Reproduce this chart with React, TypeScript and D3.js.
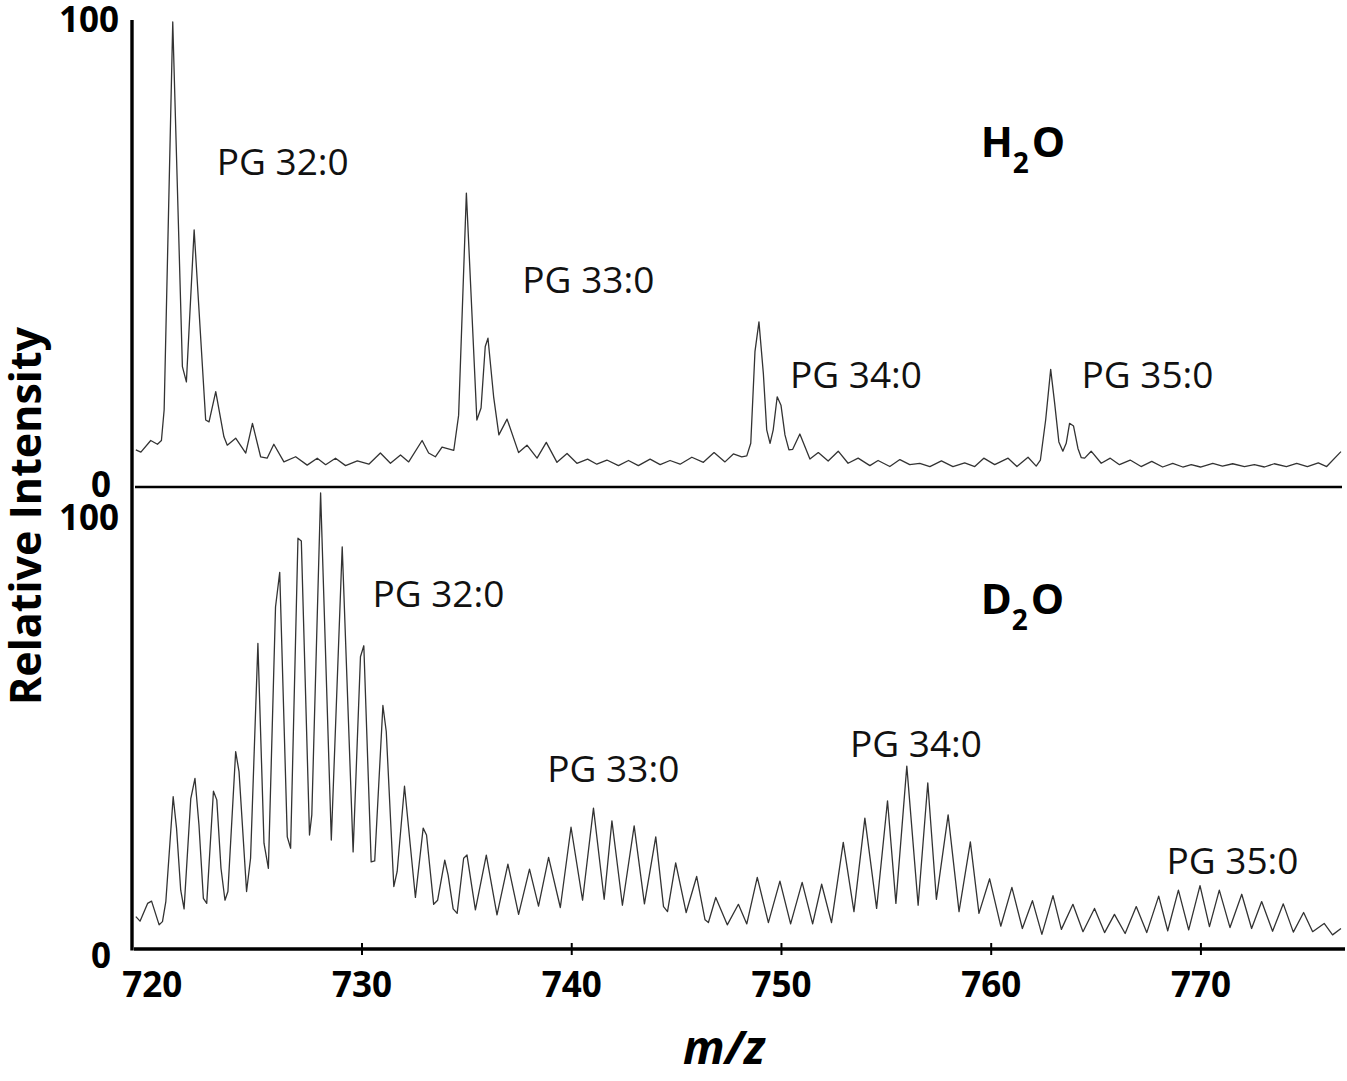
import { useEffect, useRef } from 'react'
import * as d3 from 'd3'

// [m/z, relative intensity]
const h2oSpectrum: [number, number][] = [
  [719.24, 8.0], [719.48, 7.5], [719.95, 10.0], [720.27, 9.2], [720.46, 10.0], [720.59, 16.6],
  [721.0, 100], [721.46, 25.9], [721.65, 22.6], [722.02, 55.3], [722.57, 14.4], [722.73, 14.0],
  [723.05, 20.5], [723.44, 10.8], [723.6, 9.0], [724.0, 10.5], [724.48, 7.3], [724.8, 13.7],
  [725.19, 6.5], [725.5, 6.2], [725.82, 9.2], [726.3, 5.4], [726.86, 6.5], [727.41, 4.7],
  [727.89, 6.2], [728.29, 4.8], [728.76, 6.2], [729.24, 4.6], [729.8, 5.6], [730.35, 4.9],
  [730.9, 7.3], [731.38, 5.1], [731.86, 6.9], [732.25, 5.4], [732.89, 10.0], [733.2, 7.3],
  [733.52, 6.5], [733.84, 8.6], [734.4, 7.9], [734.63, 15.4], [735.0, 63.2], [735.5, 14.4],
  [735.7, 17.0], [735.9, 30.2], [736.03, 32.0], [736.3, 19.4], [736.55, 11.2], [736.94, 14.6],
  [737.49, 7.4], [737.89, 9.0], [738.37, 6.2], [738.81, 9.6], [739.32, 5.3], [739.8, 7.2],
  [740.27, 5.1], [740.78, 6.0], [741.22, 4.9], [741.7, 5.8], [742.25, 4.6], [742.73, 5.7],
  [743.2, 4.6], [743.76, 6.0], [744.24, 4.8], [744.71, 5.7], [745.19, 4.9], [745.75, 6.4],
  [746.3, 5.3], [746.81, 7.4], [747.33, 5.4], [747.73, 7.1], [748.13, 6.5], [748.37, 6.7],
  [748.56, 9.4], [748.76, 29.1], [748.95, 35.5], [749.16, 24.4], [749.32, 12.3], [749.48, 9.4],
  [749.63, 12.3], [749.82, 19.4], [750.0, 17.6], [750.19, 11.2], [750.38, 8.0], [750.56, 8.1],
  [750.9, 11.4], [751.38, 6.0], [751.78, 7.4], [752.25, 5.6], [752.73, 7.7], [753.2, 5.1],
  [753.68, 6.2], [754.24, 4.6], [754.63, 5.7], [755.19, 4.4], [755.67, 5.9], [756.14, 4.8],
  [756.62, 5.1], [757.1, 4.4], [757.65, 5.6], [758.2, 4.4], [758.76, 5.2], [759.24, 4.4],
  [759.67, 6.2], [760.19, 4.8], [760.83, 6.2], [761.25, 4.4], [761.78, 6.4], [762.17, 4.5],
  [762.37, 5.8], [762.62, 14.4], [762.86, 25.3], [763.05, 18.0], [763.25, 9.7], [763.44, 7.7],
  [763.6, 9.4], [763.76, 13.7], [763.95, 13.1], [764.16, 8.3], [764.32, 6.3], [764.48, 6.2],
  [764.79, 7.7], [765.27, 5.1], [765.7, 6.2], [766.14, 4.8], [766.65, 5.8], [767.17, 4.4],
  [767.68, 5.5], [768.2, 4.3], [768.68, 5.1], [769.16, 4.3], [769.56, 4.8], [770.0, 4.3],
  [770.59, 5.1], [771.05, 4.5], [771.54, 5.0], [772.1, 4.4], [772.57, 4.8], [773.05, 4.3],
  [773.52, 5.0], [774.1, 4.4], [774.59, 5.1], [775.1, 4.4], [775.62, 5.2], [776.02, 4.4],
  [776.7, 7.6],
]

// [m/z, relative intensity]
const d2oSpectrum: [number, number][] = [
  [719.24, 7.1], [719.44, 6.1], [719.8, 10.0], [719.99, 10.5], [720.35, 5.3], [720.51, 6.0],
  [720.67, 10.4], [721.02, 33.4], [721.18, 26.5], [721.38, 12.9], [721.54, 8.8], [721.86, 33.0],
  [722.06, 37.4], [722.25, 27.2], [722.46, 11.1], [722.62, 10.0], [722.94, 34.6], [723.1, 32.7],
  [723.3, 17.7], [723.49, 10.7], [723.63, 12.6], [724.0, 43.3], [724.16, 38.9], [724.52, 12.6],
  [724.71, 19.9], [725.06, 67.0], [725.35, 23.2], [725.56, 17.7], [725.9, 75.0], [726.1, 82.6],
  [726.46, 24.6], [726.62, 22.1], [726.97, 90.1], [727.13, 89.5], [727.52, 25.0], [727.63, 29.4],
  [728.05, 100], [728.56, 23.9], [729.08, 88.2], [729.6, 21.3], [729.95, 64.1], [730.11, 66.5],
  [730.46, 19.1], [730.63, 19.3], [731.02, 53.4], [731.18, 47.7], [731.54, 13.7], [731.7, 17.0],
  [732.05, 35.7], [732.57, 11.3], [732.94, 26.5], [733.1, 25.0], [733.44, 9.8], [733.63, 10.7],
  [733.97, 19.5], [734.13, 16.2], [734.37, 8.8], [734.56, 7.8], [734.87, 19.9], [735.03, 20.6],
  [735.43, 8.6], [735.95, 20.6], [736.46, 7.5], [736.98, 18.6], [737.49, 7.6], [738.01, 17.5],
  [738.44, 9.4], [738.92, 20.1], [739.48, 9.1], [739.99, 26.7], [740.54, 10.7], [741.06, 30.9],
  [741.57, 10.9], [741.94, 28.1], [742.44, 9.6], [743.0, 27.0], [743.49, 9.9], [744.03, 24.6],
  [744.4, 9.3], [744.59, 8.2], [744.98, 18.9], [745.48, 8.0], [745.98, 15.9], [746.38, 6.4],
  [746.54, 5.8], [746.89, 11.3], [747.44, 5.3], [747.97, 9.8], [748.37, 5.5], [748.87, 15.7],
  [749.4, 5.8], [749.95, 14.9], [750.46, 5.5], [751.01, 14.6], [751.51, 5.5], [751.94, 14.2],
  [752.41, 5.8], [752.97, 23.4], [753.48, 8.2], [754.0, 28.7], [754.56, 8.9], [755.08, 32.5],
  [755.48, 10.0], [756.0, 40.1], [756.54, 9.6], [757.0, 36.4], [757.41, 10.9], [757.97, 29.4],
  [758.49, 8.2], [759.03, 23.5], [759.44, 7.8], [759.95, 15.4], [760.48, 5.0], [761.01, 13.5],
  [761.51, 4.5], [761.99, 10.6], [762.44, 3.2], [762.97, 11.7], [763.37, 4.3], [763.92, 9.8],
  [764.4, 3.8], [764.95, 8.9], [765.43, 3.6], [765.9, 7.6], [766.41, 3.4], [766.94, 9.3],
  [767.44, 3.6], [768.01, 11.6], [768.44, 4.0], [768.95, 12.9], [769.44, 4.2], [769.98, 13.9],
  [770.43, 4.9], [770.9, 12.9], [771.41, 4.7], [771.97, 12.0], [772.44, 4.5], [772.92, 10.4],
  [773.44, 3.9], [773.95, 9.9], [774.43, 3.7], [774.92, 8.0], [775.35, 3.8], [775.9, 5.6],
  [776.3, 3.1], [776.7, 4.5],
]

const xTicks = [720, 730, 740, 750, 760, 770]
const yTicks = [0, 100]

// annotation anchors in data units (left edge of text, baseline)
const h2oLabels = [
  { text: 'PG 32:0', mz: 723.1, intensity: 67.1 },
  { text: 'PG 33:0', mz: 737.67, intensity: 41.7 },
  { text: 'PG 34:0', mz: 750.43, intensity: 21.3 },
  { text: 'PG 35:0', mz: 764.33, intensity: 21.3 },
]
const d2oLabels = [
  { text: 'PG 32:0', mz: 730.52, intensity: 75 },
  { text: 'PG 33:0', mz: 738.86, intensity: 36.6 },
  { text: 'PG 34:0', mz: 753.29, intensity: 42.1 },
  { text: 'PG 35:0', mz: 768.38, intensity: 16.4 },
]
const panelTitles = [
  { base: 'H', sub: '2', rest: 'O', mz: 759.52, intensity: 71.0 },
  { base: 'D', sub: '2', rest: 'O', mz: 759.52, intensity: 73.5 },
]

const W = 1347
const H = 1081
const FONT = "'Open Sans', 'Noto Sans', sans-serif"

export default function App() {
  const svgRef = useRef<SVGSVGElement>(null)

  useEffect(() => {
    if (!svgRef.current) return
    const svg = d3.select(svgRef.current)
    svg.selectAll('*').remove()

    const axisX = 132
    const x = d3.scaleLinear().domain([719.2, 776.75]).range([135, 1342])
    const yTop = d3.scaleLinear().domain([0, 100]).range([487, 22])
    const yBot = d3.scaleLinear().domain([0, 100]).range([949, 493])

    const panels = [
      { y: yTop, data: h2oSpectrum, labels: h2oLabels, title: panelTitles[0], tickDy: [10, 10] },
      { y: yBot, data: d2oSpectrum, labels: d2oLabels, title: panelTitles[1], tickDy: [19, 37] },
    ]

    panels.forEach((p) => {
      const line = d3
        .line<[number, number]>()
        .x((d) => x(d[0]))
        .y((d) => p.y(d[1]))

      svg.append('path')
        .datum(p.data)
        .attr('d', line)
        .attr('fill', 'none')
        .attr('stroke', '#333')
        .attr('stroke-width', 1.3)
        .attr('stroke-linejoin', 'round')

      svg.append('g')
        .selectAll('text')
        .data(p.labels)
        .join('text')
        .attr('x', (d) => x(d.mz))
        .attr('y', (d) => p.y(d.intensity))
        .attr('font-family', FONT)
        .attr('font-size', 37)
        .attr('fill', '#111')
        .text((d) => d.text)

      const t = svg.append('text')
        .attr('x', x(p.title.mz))
        .attr('y', p.y(p.title.intensity))
        .attr('font-family', FONT)
        .attr('font-weight', 'bold')
        .attr('font-size', 42)
        .attr('fill', '#000')
      t.append('tspan').text(p.title.base)
      t.append('tspan').attr('font-size', 28).attr('dy', 16).text(p.title.sub)
      t.append('tspan').attr('dy', -16).attr('dx', 3).text(p.title.rest)

      // y tick labels 0 / 100
      svg.append('g')
        .selectAll('text')
        .data(yTicks)
        .join('text')
        .attr('x', (d) => (d === 0 ? 111 : 119))
        .attr('y', (d, i) => p.y(d) + p.tickDy[i])
        .attr('text-anchor', 'end')
        .attr('font-family', FONT)
        .attr('font-weight', 'bold')
        .attr('font-size', 35)
        .attr('fill', '#000')
        .text((d) => String(d))
    })

    // panel separator (zero line of the H2O trace)
    svg.append('line')
      .attr('x1', 135).attr('x2', 1342)
      .attr('y1', yTop(0)).attr('y2', yTop(0))
      .attr('stroke', '#000').attr('stroke-width', 2.5)

    // left axis
    svg.append('line')
      .attr('x1', axisX).attr('x2', axisX)
      .attr('y1', 20).attr('y2', yBot(0) + 1.5)
      .attr('stroke', '#000').attr('stroke-width', 3.4)

    // bottom axis
    const xAxis = d3.axisBottom(x).tickValues(xTicks).tickSize(0).tickFormat((d) => String(d))
    svg.append('g')
      .attr('transform', `translate(0,${yBot(0)})`)
      .call(xAxis)
      .call((g) => g.select('.domain').remove())
      .call((g) => g.selectAll('.tick line')
        .attr('y1', -6).attr('y2', 6)
        .attr('stroke', '#000').attr('stroke-width', 2)
        .attr('display', (d: any) => (d === 720 ? 'none' : null)))
      .call((g) => g.selectAll('.tick text')
        .attr('y', 48).attr('dy', 0)
        .attr('fill', '#000')
        .attr('font-size', 35)
        .attr('font-weight', 'bold')
        .attr('font-family', FONT))

    svg.append('line')
      .attr('x1', 134).attr('x2', 1345)
      .attr('y1', yBot(0)).attr('y2', yBot(0))
      .attr('stroke', '#000').attr('stroke-width', 3.3)

    // axis titles
    svg.append('text')
      .attr('transform', `translate(41,516) rotate(-90)`)
      .attr('text-anchor', 'middle')
      .attr('font-family', FONT)
      .attr('font-weight', 'bold')
      .attr('font-size', 43)
      .attr('fill', '#000')
      .text('Relative Intensity')

    svg.append('text')
      .attr('x', 724)
      .attr('y', 1064)
      .attr('text-anchor', 'middle')
      .attr('font-family', FONT)
      .attr('font-weight', 'bold')
      .attr('font-style', 'italic')
      .attr('font-size', 46)
      .attr('fill', '#000')
      .text('m/z')
  }, [])

  return (
    <div style={{ position: 'absolute', left: 0, top: 0, width: W, height: H, background: '#fff' }}>
      <svg ref={svgRef} width={W} height={H} />
    </div>
  )
}
